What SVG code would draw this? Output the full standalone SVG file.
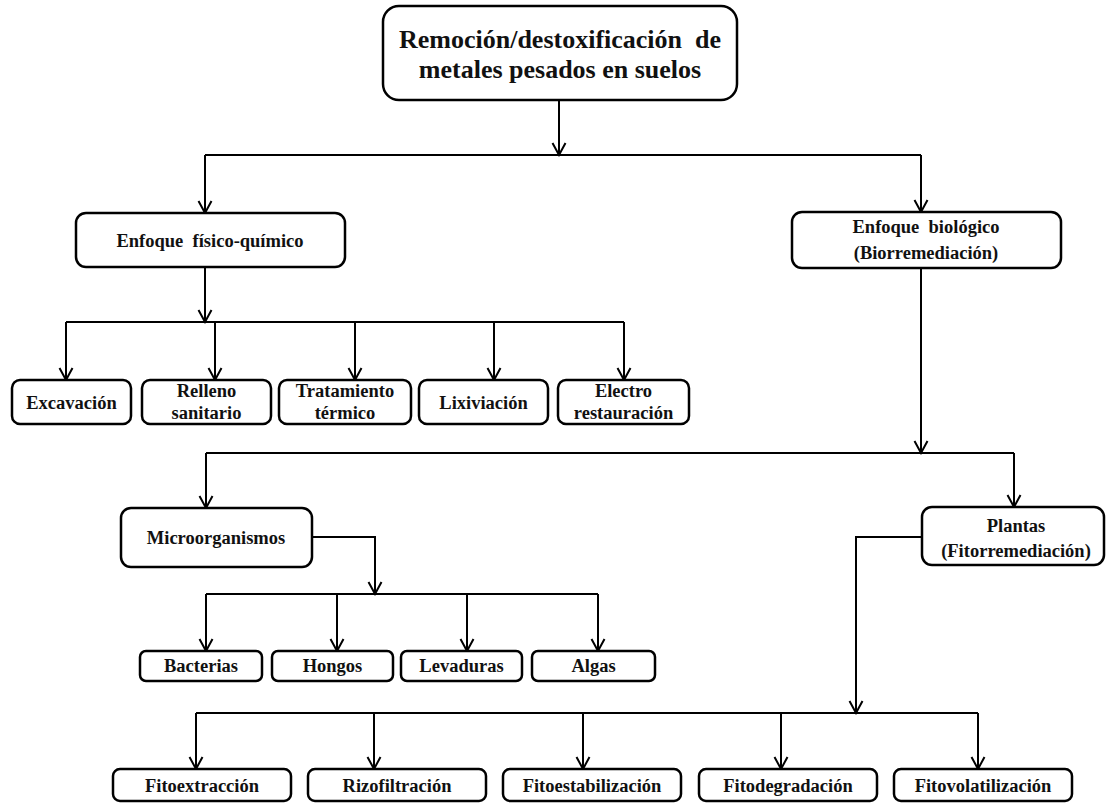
<svg xmlns="http://www.w3.org/2000/svg" width="1106" height="803" viewBox="0 0 1106 803">
<defs>
<marker id="arr" viewBox="-14 -8 16 16" markerWidth="16" markerHeight="16" refX="0" refY="0" orient="auto" markerUnits="userSpaceOnUse">
<path d="M-12,-6.5 L0,0 L-12,6.5" fill="none" stroke="#000" stroke-width="2"/>
</marker>
<style>
.box{fill:#fff;stroke:#000;stroke-width:2.5}
.t{font-family:"Liberation Serif","Times New Roman",serif;font-weight:bold;font-size:18.5px;text-anchor:middle;fill:#111}
.tt{font-size:26px}
.c{fill:none;stroke:#000;stroke-width:2}
</style>
</defs>
<rect width="1106" height="803" fill="#fff"/>
<g id="connectors">
<path class="c" d="M559,100 V155" marker-end="url(#arr)"/>
<path class="c" d="M205,155 H921"/>
<path class="c" d="M205,155 V213" marker-end="url(#arr)"/>
<path class="c" d="M921,155 V212" marker-end="url(#arr)"/>
<path class="c" d="M205,267 V322" marker-end="url(#arr)"/>
<path class="c" d="M66,322 H624"/>
<path class="c" d="M66,322 V380" marker-end="url(#arr)"/>
<path class="c" d="M215,322 V380" marker-end="url(#arr)"/>
<path class="c" d="M355,322 V380" marker-end="url(#arr)"/>
<path class="c" d="M494,322 V380" marker-end="url(#arr)"/>
<path class="c" d="M624,322 V380" marker-end="url(#arr)"/>
<path class="c" d="M921,268 V453" marker-end="url(#arr)"/>
<path class="c" d="M206,453 H1014"/>
<path class="c" d="M206,453 V508" marker-end="url(#arr)"/>
<path class="c" d="M1014,453 V507" marker-end="url(#arr)"/>
<path class="c" d="M312,537 H375 V594" marker-end="url(#arr)"/>
<path class="c" d="M206,594 H598"/>
<path class="c" d="M206,594 V651" marker-end="url(#arr)"/>
<path class="c" d="M337,594 V651" marker-end="url(#arr)"/>
<path class="c" d="M467,594 V651" marker-end="url(#arr)"/>
<path class="c" d="M598,594 V651" marker-end="url(#arr)"/>
<path class="c" d="M922,537 H856 V713" marker-end="url(#arr)"/>
<path class="c" d="M196,713 H978"/>
<path class="c" d="M196,713 V769" marker-end="url(#arr)"/>
<path class="c" d="M374,713 V769" marker-end="url(#arr)"/>
<path class="c" d="M583,713 V769" marker-end="url(#arr)"/>
<path class="c" d="M781,713 V769" marker-end="url(#arr)"/>
<path class="c" d="M978,713 V769" marker-end="url(#arr)"/>
</g>
<g id="root"><rect class="box" x="383" y="6" width="354" height="94" rx="16"/>
<text class="t tt" x="560" y="48">Remoción/destoxificación&#160; de</text>
<text class="t tt" x="560" y="78">metales pesados en suelos</text></g>
<g id="fisico"><rect class="box" x="76" y="213" width="269" height="54" rx="10"/>
<text class="t" x="210" y="247">Enfoque&#160; físico-químico</text></g>
<g id="biologico"><rect class="box" x="792" y="212" width="269" height="56" rx="10"/>
<text class="t" x="926" y="233">Enfoque&#160; biológico</text>
<text class="t" x="926" y="259">(Biorremediación)</text></g>
<g id="excavacion"><rect class="box" x="12" y="380" width="119" height="44" rx="8"/>
<text class="t" x="71.5" y="409">Excavación</text></g>
<g id="relleno"><rect class="box" x="142" y="380" width="129" height="44" rx="8"/>
<text class="t" x="206.5" y="397">Relleno</text><text class="t" x="206.5" y="419">sanitario</text></g>
<g id="tratamiento"><rect class="box" x="279" y="380" width="132" height="44" rx="8"/>
<text class="t" x="345" y="397">Tratamiento</text><text class="t" x="345" y="419">térmico</text></g>
<g id="lixiviacion"><rect class="box" x="419" y="380" width="129" height="44" rx="8"/>
<text class="t" x="483.5" y="409">Lixiviación</text></g>
<g id="electro"><rect class="box" x="558" y="380" width="131" height="44" rx="8"/>
<text class="t" x="623.5" y="397">Electro</text><text class="t" x="623.5" y="419">restauración</text></g>
<g id="micro"><rect class="box" x="121" y="508" width="191" height="59" rx="10"/>
<text class="t" x="216" y="544">Microorganismos</text></g>
<g id="plantas"><rect class="box" x="922" y="507" width="182" height="58" rx="10"/>
<text class="t" x="1016" y="532">Plantas</text>
<text class="t" x="1016" y="557">(Fitorremediación)</text></g>
<g id="bacterias"><rect class="box" x="140" y="651" width="122" height="30" rx="6"/>
<text class="t" x="201" y="672">Bacterias</text></g>
<g id="hongos"><rect class="box" x="272" y="651" width="121" height="30" rx="6"/>
<text class="t" x="332.5" y="672">Hongos</text></g>
<g id="levaduras"><rect class="box" x="401" y="651" width="121" height="30" rx="6"/>
<text class="t" x="461.5" y="672">Levaduras</text></g>
<g id="algas"><rect class="box" x="532" y="651" width="123" height="30" rx="6"/>
<text class="t" x="593.5" y="672">Algas</text></g>
<g id="fitoextraccion"><rect class="box" x="113" y="769" width="178" height="32" rx="7"/>
<text class="t" x="202" y="792">Fitoextracción</text></g>
<g id="rizofiltracion"><rect class="box" x="308" y="769" width="178" height="32" rx="7"/>
<text class="t" x="397" y="792">Rizofiltración</text></g>
<g id="fitoestabilizacion"><rect class="box" x="503" y="769" width="178" height="32" rx="7"/>
<text class="t" x="592" y="792">Fitoestabilización</text></g>
<g id="fitodegradacion"><rect class="box" x="699" y="769" width="178" height="32" rx="7"/>
<text class="t" x="788" y="792">Fitodegradación</text></g>
<g id="fitovolatilizacion"><rect class="box" x="894" y="769" width="178" height="32" rx="7"/>
<text class="t" x="983" y="792">Fitovolatilización</text></g>
</svg>
